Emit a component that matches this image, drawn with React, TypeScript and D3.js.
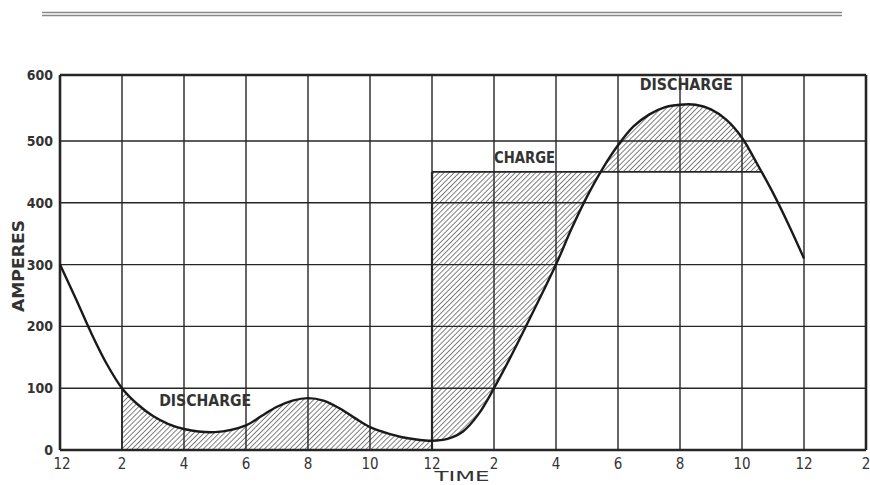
import React from "react";
import * as d3 from "d3";

// ---- data ----
const X_TICK_LABELS = ["12", "2", "4", "6", "8", "10", "12", "2", "4", "6", "8", "10", "12", "2"];
const Y_TICKS = [0, 100, 200, 300, 400, 500, 600];
const HOURS = [0, 0.5, 1, 1.5, 2, 2.5, 3, 3.5, 4, 5, 6, 6.5, 7, 7.5, 8, 8.5, 9, 9.5, 10, 10.5, 11, 11.5, 12, 12.5, 13, 13.5, 14, 14.5, 15, 15.5, 16, 16.5, 17, 17.5, 18, 18.5, 19, 19.5, 20, 20.5, 21, 21.5, 22, 22.5, 23, 23.5, 24];
const AMPERES = [300, 246, 190, 140, 100, 74, 55, 42, 34, 29, 40, 55, 70, 80, 84, 80, 68, 52, 37, 28, 21, 17, 15, 18, 30, 58, 100, 147, 197, 248, 300, 358, 410, 455, 493, 522, 540, 551, 555, 555, 548, 532, 505, 462, 416, 365, 310];
const CHARGE_LEVEL = 450;
const LOW_DISCHARGE = [2, 12];
const CHARGE_START = 12;
const LABELS = [
  { text: "DISCHARGE", hour: 3.2, amps: 72, len: 92 },
  { text: "CHARGE", hour: 14, amps: 465, len: 61 },
  { text: "DISCHARGE", hour: 18.7, amps: 578, len: 93 },
];

const W = 870;
const H = 485;
const FONT = "'DejaVu Sans Condensed', 'Liberation Sans Narrow', 'DejaVu Sans', sans-serif";
const INK = "#262626";
const TEXT = "#333";

export default function App() {
  const x = d3.scaleLinear().domain([0, 26]).range([60, 866]);
  const y = d3.scaleLinear().domain([0, 500, 600]).range([450, 141, 75]);
  const pts: [number, number][] = HOURS.map((h, i) => [h, AMPERES[i]]);
  const curve = d3.curveCatmullRom.alpha(0.5);

  const line = d3
    .line<[number, number]>()
    .x((d) => x(d[0]))
    .y((d) => y(d[1]))
    .curve(curve);
  const belowArea = d3
    .area<[number, number]>()
    .x((d) => x(d[0]))
    .y0(y(0))
    .y1((d) => y(d[1]))
    .curve(curve);
  const aboveArea = d3
    .area<[number, number]>()
    .x((d) => x(d[0]))
    .y0(y(600))
    .y1((d) => y(d[1]))
    .curve(curve);

  const xTicks = X_TICK_LABELS.map((_, i) => i * 2);

  return (
    <svg
      width={W}
      height={H}
      style={{ position: "absolute", left: 0, top: 0, background: "#fff" }}
    >
      <defs>
        <pattern
          id="hatch"
          patternUnits="userSpaceOnUse"
          width={3.6}
          height={3.6}
          patternTransform="rotate(45)"
        >
          <line x1={0} y1={0} x2={0} y2={3.6} stroke="#262626" strokeWidth={1.15} />
        </pattern>
        <clipPath id="below">
          <path d={belowArea(pts) || ""} />
        </clipPath>
        <clipPath id="above">
          <path d={aboveArea(pts) || ""} />
        </clipPath>
      </defs>

      {/* header rule */}
      <line x1={42} x2={842} y1={12.5} y2={12.5} stroke="#888" strokeWidth={1.4} />
      <line x1={42} x2={842} y1={15.5} y2={15.5} stroke="#888" strokeWidth={1.4} />

      {/* hatched regions */}
      <rect
        x={x(LOW_DISCHARGE[0])}
        width={x(LOW_DISCHARGE[1]) - x(LOW_DISCHARGE[0])}
        y={y(600)}
        height={y(0) - y(600)}
        fill="url(#hatch)"
        clipPath="url(#below)"
      />
      <rect
        x={x(CHARGE_START)}
        width={x(20) - x(CHARGE_START)}
        y={y(CHARGE_LEVEL)}
        height={y(0) - y(CHARGE_LEVEL)}
        fill="url(#hatch)"
        clipPath="url(#above)"
      />
      <rect
        x={x(CHARGE_START)}
        width={x(24) - x(CHARGE_START)}
        y={y(600)}
        height={y(CHARGE_LEVEL) - y(600)}
        fill="url(#hatch)"
        clipPath="url(#below)"
      />

      {/* grid */}
      {xTicks.map((h) => (
        <line
          key={"vx" + h}
          x1={x(h)}
          x2={x(h)}
          y1={y(600)}
          y2={y(0)}
          stroke={INK}
          strokeWidth={h === 0 || h === 26 ? 2.6 : 1.4}
        />
      ))}
      {Y_TICKS.map((v) => (
        <line
          key={"hy" + v}
          x1={x(0)}
          x2={x(26)}
          y1={y(v)}
          y2={y(v)}
          stroke={INK}
          strokeWidth={v === 0 || v === 600 ? 2.6 : 1.4}
        />
      ))}

      {/* region boundaries */}
      <line x1={x(CHARGE_START)} x2={x(CHARGE_START)} y1={y(0)} y2={y(CHARGE_LEVEL)} stroke={INK} strokeWidth={2.2} />
      <line x1={x(CHARGE_START)} x2={x(20)} y1={y(CHARGE_LEVEL)} y2={y(CHARGE_LEVEL)} stroke={INK} strokeWidth={1.8} />
      <line
        x1={x(20)}
        x2={x(24)}
        y1={y(CHARGE_LEVEL)}
        y2={y(CHARGE_LEVEL)}
        stroke={INK}
        strokeWidth={1.8}
        clipPath="url(#below)"
      />
      <line x1={x(LOW_DISCHARGE[0])} x2={x(LOW_DISCHARGE[0])} y1={y(0)} y2={y(100)} stroke={INK} strokeWidth={1.6} />

      {/* load curve */}
      <path d={line(pts) || ""} fill="none" stroke="#1a1a1a" strokeWidth={2.4} strokeLinejoin="round" />

      {/* region labels */}
      {LABELS.map((l, i) => (
        <text
          key={"lab" + i}
          x={x(l.hour)}
          y={y(l.amps)}
          fontFamily={FONT}
          fontSize={15}
          fontWeight="bold"
          fill={TEXT}
          textLength={l.len}
          lengthAdjust="spacingAndGlyphs"
        >
          {l.text}
        </text>
      ))}

      {/* y tick labels */}
      {Y_TICKS.map((v) => (
        <text
          key={"yt" + v}
          x={53}
          y={y(v) + 5}
          textAnchor="end"
          fontFamily={FONT}
          fontSize={14}
          fontWeight="bold"
          fill={TEXT}
        >
          {v}
        </text>
      ))}

      {/* x tick labels */}
      {X_TICK_LABELS.map((t, i) => (
        <text
          key={"xt" + i}
          x={x(xTicks[i]) + (i === 0 ? 2 : 0)}
          y={469}
          textAnchor="middle"
          fontFamily={FONT}
          fontSize={15}
          fill={TEXT}
        >
          {t}
        </text>
      ))}

      {/* axis titles */}
      <text
        x={462}
        y={481}
        textAnchor="middle"
        fontFamily={FONT}
        fontSize={14}
        fill={TEXT}
        textLength={55}
        lengthAdjust="spacingAndGlyphs"
      >
        TIME
      </text>
      <text
        transform="translate(24,266) rotate(-90)"
        textAnchor="middle"
        fontFamily={FONT}
        fontSize={15}
        fontWeight="bold"
        fill={TEXT}
        textLength={92}
        lengthAdjust="spacingAndGlyphs"
      >
        AMPERES
      </text>
    </svg>
  );
}
